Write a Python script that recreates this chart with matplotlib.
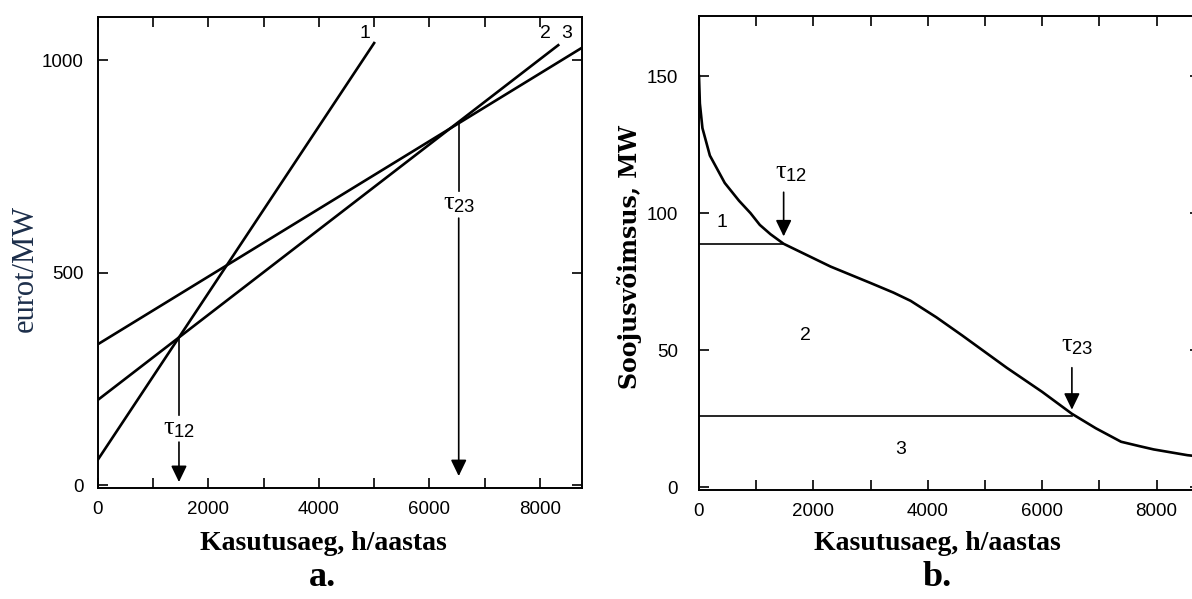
"""Two-panel chart: cost lines of three plant types (a) and heat load duration curve (b)."""
import matplotlib
matplotlib.use("Agg")
import matplotlib.pyplot as plt
from matplotlib.ticker import MultipleLocator

plt.rcParams["font.family"] = ["Liberation Sans", "DejaVu Sans"]
plt.rcParams["mathtext.fontset"] = "custom"
plt.rcParams["mathtext.rm"] = "Liberation Serif"
plt.rcParams["mathtext.it"] = "Liberation Serif"
plt.rcParams["mathtext.sf"] = "Liberation Sans"

# --- panel a: annual cost per MW vs. utilisation time ---
cost_labels = ["1", "2", "3"]
cost_x0 = [0, 0, 0]
cost_x1 = [5000, 8330, 8760]
cost_y0 = [59, 200, 331]
cost_y1 = [1040, 1035, 1029]
tau12_a, tau12_a_y = 1470, 347
tau23_a, tau23_a_y = 6530, 853

# --- panel b: load duration curve ---
hours = [0, 15, 60, 190, 450, 700, 900, 1063, 1250, 1480, 2300, 3000, 3400, 3700,
         4150, 4600, 5380, 6000, 6520, 6940, 7380, 7700, 7950, 8540, 8760]
load_mw = [150, 140, 131, 121, 111, 104.5, 100, 95.7, 92.3, 88.8, 80.5, 74.5, 71, 68,
           62, 55.4, 43.6, 34.8, 26.8, 21.5, 16.6, 15, 13.8, 11.7, 11.2]
tau12_b, level12 = 1480, 88.8
tau23_b, level23 = 6520, 26
zone_labels = ["1", "2", "3"]
zone_x = [400, 1860, 3520]
zone_y = [96.4, 55.4, 13.7]

W, H = 1192, 599
fig = plt.figure(figsize=(W / 100, H / 100), dpi=100)


def px_box(left, top, right, bottom):
    return [left / W, 1 - bottom / H, (right - left) / W, (bottom - top) / H]


def style_axes(ax, ypad):
    for s in ax.spines.values():
        s.set_linewidth(1.4)
    ax.tick_params(which="both", direction="in", top=True, right=True,
                   length=7, width=1.2, labelsize=13.5)
    ax.tick_params(axis="x", which="both", pad=9)
    ax.tick_params(axis="y", which="both", pad=ypad)
    ax.xaxis.set_major_locator(MultipleLocator(2000))
    ax.xaxis.set_minor_locator(MultipleLocator(1000))


arrow = dict(arrowstyle="-|>,head_length=0.62,head_width=0.3",
             color="black", lw=1.2, mutation_scale=16, shrinkA=0, shrinkB=0)
tau_kw = dict(fontsize=19, ha="center", va="center")

# panel a
ax1 = fig.add_axes(px_box(97.7, 16.7, 582, 488))
for lab, x0, x1, y0, y1 in zip(cost_labels, cost_x0, cost_x1, cost_y0, cost_y1):
    ax1.plot([x0, x1], [y0, y1], color="black", lw=1.9)
ax1.text(4830, 1062, "1", fontsize=14, ha="center", va="center")
ax1.text(8090, 1062, "2", fontsize=14, ha="center", va="center")
ax1.text(8480, 1062, "3", fontsize=14, ha="center", va="center")

ax1.plot([tau12_a, tau12_a], [tau12_a_y, 165], color="black", lw=1.2)
ax1.text(tau12_a, 134, r"$\tau_{\mathsf{12}}$", **tau_kw)
ax1.annotate("", xy=(tau12_a, 7), xytext=(tau12_a, 101), arrowprops=arrow)
ax1.plot([tau23_a, tau23_a], [tau23_a_y, 692], color="black", lw=1.2)
ax1.text(tau23_a, 664, r"$\tau_{\mathsf{23}}$", **tau_kw)
ax1.annotate("", xy=(tau23_a, 21), xytext=(tau23_a, 628), arrowprops=arrow)

ax1.set_xlim(0, 8760)
ax1.set_ylim(-7, 1102)
ax1.set_yticks([0, 500, 1000])
style_axes(ax1, 10)

# panel b
ax2 = fig.add_axes(px_box(699, 15.7, 1200, 490))
ax2.plot(hours, load_mw, color="black", lw=1.9)
ax2.plot([0, tau12_b], [level12, level12], color="black", lw=1.2)
ax2.plot([0, tau23_b], [level23, level23], color="black", lw=1.2)
for lab, x, y in zip(zone_labels, zone_x, zone_y):
    ax2.text(x, y, lab, fontsize=14, ha="center", va="center")

ax2.text(tau12_b + 130, 115, r"$\tau_{\mathsf{12}}$", **tau_kw)
ax2.annotate("", xy=(tau12_b, 91.5), xytext=(tau12_b, 107.6), arrowprops=arrow)
ax2.text(tau23_b + 100, 52, r"$\tau_{\mathsf{23}}$", **tau_kw)
ax2.annotate("", xy=(tau23_b, 28.3), xytext=(tau23_b, 43.6), arrowprops=arrow)

ax2.set_xlim(0, 8760)
ax2.set_ylim(-1, 172)
ax2.set_yticks([0, 50, 100, 150])
style_axes(ax2, 15)

# axis titles and panel letters
serif = ["Liberation Serif", "DejaVu Serif"]
fig.text(25 / W, 1 - 268 / H, "eurot/MW", family=serif, fontsize=22,
         rotation=90, ha="center", va="center", color="#1c2e4a")
fig.text(630 / W, 1 - 257 / H, "Soojusvõimsus, MW", family=["DejaVu Serif"],
         fontsize=17, weight="bold", rotation=90, ha="center", va="center")
for cx, letter in [(323, "a."), (937, "b.")]:
    fig.text(cx / W, 1 - 543 / H, "Kasutusaeg, h/aastas", family=serif,
             fontsize=20, weight="bold", ha="center", va="center")
    fig.text(cx / W, 1 - 578 / H, letter, family=serif, fontsize=26,
             weight="bold", ha="center", va="center")

fig.savefig("out.png", dpi=100)
